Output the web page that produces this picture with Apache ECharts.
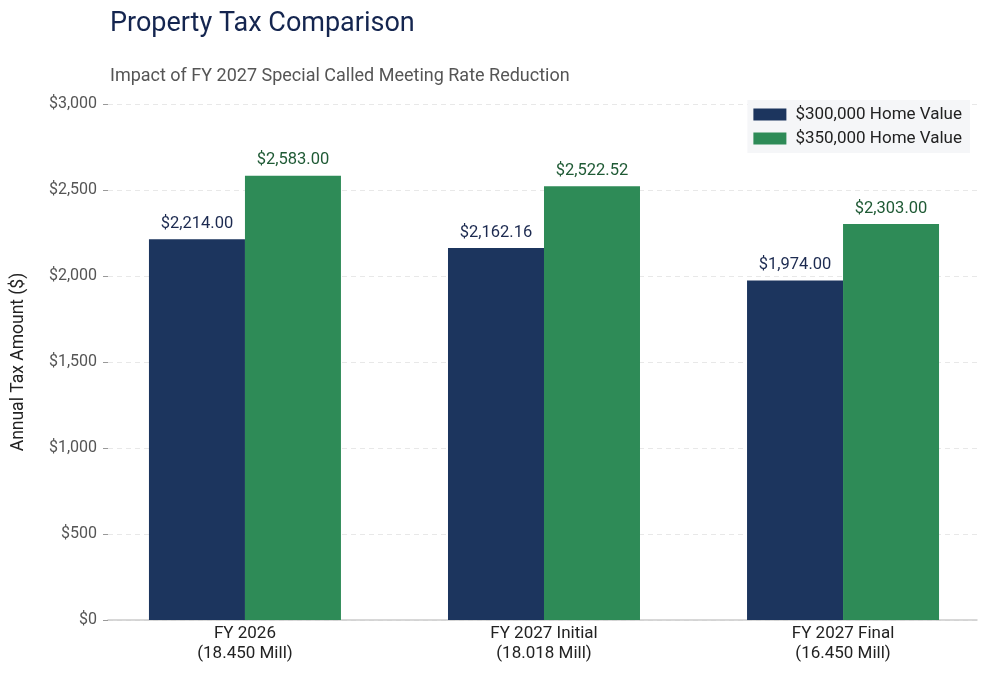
<!DOCTYPE html>
<html>
<head>
<meta charset="utf-8">
<script src="https://cdn.jsdelivr.net/npm/echarts@6/dist/echarts.min.js"></script>
<style>
html,body{margin:0;padding:0;background:#fff;}
#chart{width:990px;height:675px;}
</style>
</head>
<body>
<div id="chart"></div>
<script>
const categories = ['FY 2026\n(18.450 Mill)', 'FY 2027 Initial\n(18.018 Mill)', 'FY 2027 Final\n(16.450 Mill)'];
const seriesNames = ['$300,000 Home Value', '$350,000 Home Value'];
const home300 = [2214.00, 2162.16, 1974.00];
const home350 = [2583.00, 2522.52, 2303.00];
const yTicks = [0, 500, 1000, 1500, 2000, 2500, 3000];

const FONT = 'Roboto';
const fmtMoney = v => '$' + v.toLocaleString('en-US', {minimumFractionDigits: 2, maximumFractionDigits: 2});
const fmtAxis = v => '$' + v.toLocaleString('en-US');

const chart = echarts.init(document.getElementById('chart'));
chart.setOption({
  backgroundColor: '#ffffff',
  textStyle: {fontFamily: FONT},
  title: [
    {text: 'Property Tax Comparison', left: 105, top: 6,
     textStyle: {fontFamily: FONT, fontSize: 27, fontWeight: 'normal', color: '#14254f'}},
    {text: 'Impact of FY 2027 Special Called Meeting Rate Reduction', left: 105, top: 62,
     textStyle: {fontFamily: FONT, fontSize: 18, fontWeight: 'normal', color: '#555555'}}
  ],
  legend: {
    orient: 'vertical', right: 20, top: 100,
    backgroundColor: '#f5f6f8', padding: [6, 8, 6, 6],
    icon: 'rect',
    itemWidth: 33, itemHeight: 12, itemGap: 7,
    textStyle: {fontFamily: FONT, fontSize: 17, color: '#222222', padding: [0, 0, 0, 4]},
    data: seriesNames
  },
  grid: {left: 108, right: 13, top: 104, bottom: 55},
  xAxis: {
    type: 'value', min: -0.458, max: 2.448,
    axisLine: {show: true, onZero: false, lineStyle: {color: '#cccccc', width: 1.5}},
    axisTick: {show: false},
    splitLine: {show: false},
    axisLabel: {
      customValues: [0, 1, 2],
      formatter: v => categories[Math.round(v)],
      fontFamily: FONT, fontSize: 17, color: '#222222', lineHeight: 20, margin: 4
    }
  },
  yAxis: {
    type: 'value', min: 0, max: 3000, interval: 500,
    name: 'Annual Tax Amount ($)', nameLocation: 'middle', nameGap: 80,
    nameTextStyle: {fontFamily: FONT, fontSize: 17.5, color: '#222222'},
    axisLine: {show: false, onZero: false},
    axisTick: {show: true, length: 5, lineStyle: {color: '#999999'}},
    axisLabel: {fontFamily: FONT, fontSize: 16, color: '#555555', margin: 11,
      formatter: v => fmtAxis(v)},
    splitLine: {show: true, lineStyle: {color: '#e8e8e8', type: [5, 4], width: 1}}
  },
  series: [
    {name: seriesNames[0], type: 'bar', barWidth: 96, barGap: '0%',
     itemStyle: {color: '#1c355e'},
     label: {show: true, position: 'top', distance: 7, formatter: p => fmtMoney(p.value[1]),
       fontFamily: FONT, fontSize: 16.5, color: '#1c2a50'},
     data: home300.map((v, i) => [i, v])},
    {name: seriesNames[1], type: 'bar', barWidth: 96, barGap: '0%',
     itemStyle: {color: '#2e8b57'},
     label: {show: true, position: 'top', distance: 7, formatter: p => fmtMoney(p.value[1]),
       fontFamily: FONT, fontSize: 16.5, color: '#1f5a35'},
     data: home350.map((v, i) => [i, v])}
  ]
});
</script>
</body>
</html>
